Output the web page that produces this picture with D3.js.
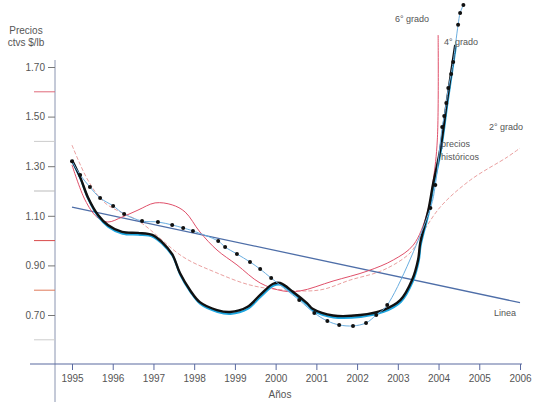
<!DOCTYPE html>
<html>
<head>
<meta charset="utf-8">
<script src="https://cdn.jsdelivr.net/npm/d3@7"></script>
<style>
  body { margin: 0; background: #fff; }
  text { font-family: "Liberation Sans", Arial, sans-serif; fill: #555; }
</style>
</head>
<body>
<svg id="chart"></svg>
<script>
// Tick labels
const yearTicks = [1995, 1996, 1997, 1998, 1999, 2000, 2001, 2002, 2003, 2004, 2005, 2006];
const priceTicks = [0.70, 0.90, 1.10, 1.30, 1.50, 1.70];
const minorTicks = [0.60, 0.80, 1.00, 1.20, 1.40, 1.60];
const minorColors = ['#ccc', '#e07a5a', '#d94a4a', '#bbb', '#ccc', '#e06a7a'];

// Precios historicos (dotted series)
const histYears = [1995.00, 1995.20, 1995.44, 1995.69, 1996.01, 1996.28, 1996.72, 1997.11, 1997.46, 1997.73,
  1997.97, 1998.59, 1998.76, 1999.05, 1999.37, 1999.62, 1999.89, 2000.58, 2000.95, 2001.27,
  2001.56, 2001.90, 2002.22, 2002.47, 2002.74, 2003.80, 2003.92, 2004.09, 2004.14, 2004.19,
  2004.24, 2004.31, 2004.36, 2004.48, 2004.53, 2004.61];
const histPrices = [1.32, 1.265, 1.216, 1.172, 1.140, 1.107, 1.079, 1.075, 1.063, 1.051,
  1.039, 0.998, 0.974, 0.946, 0.914, 0.885, 0.849, 0.760, 0.708, 0.676,
  0.660, 0.656, 0.668, 0.700, 0.740, 1.131, 1.224, 1.458, 1.502, 1.555,
  1.615, 1.672, 1.720, 1.870, 1.918, 1.95];

// 6° grado
const g6Years = [1995.00, 1995.20, 1995.39, 1995.64, 1995.88, 1996.23, 1996.62, 1996.97, 1997.21, 1997.46,
  1997.65, 1997.90, 1998.14, 1998.56, 1998.88, 1999.30, 1999.62, 1999.94, 2000.11, 2000.43,
  2000.77, 2000.92, 2001.41, 2002.08, 2002.64, 2003.06, 2003.35, 2003.50, 2003.55, 2003.75,
  2003.87, 2004.04, 2004.21, 2004.41];
const g6Prices = [1.325, 1.256, 1.175, 1.103, 1.063, 1.035, 1.031, 1.023, 0.994, 0.945,
  0.869, 0.800, 0.752, 0.720, 0.712, 0.732, 0.781, 0.826, 0.829, 0.793,
  0.748, 0.724, 0.698, 0.700, 0.720, 0.760, 0.841, 0.925, 0.990, 1.123,
  1.232, 1.365, 1.567, 1.789];

// 4° grado
const g4Years = [1995.00, 1995.32, 1995.61, 1995.88, 1996.23, 1996.62, 1997.04, 1997.46, 1997.78, 1998.14,
  1998.56, 1999.05, 1999.62, 2000.18, 2000.60, 2001.41, 2002.25, 2002.89, 2003.38, 2003.72,
  2003.87, 2003.97, 2003.99];
const g4Prices = [1.305, 1.164, 1.095, 1.075, 1.095, 1.123, 1.152, 1.144, 1.115, 1.035,
  0.962, 0.902, 0.829, 0.797, 0.797, 0.837, 0.877, 0.922, 0.982, 1.111,
  1.244, 1.406, 1.829];

// 2° grado
const g2Years = [1995.00, 1995.39, 1995.81, 1996.67, 1997.73, 1998.51, 1999.37, 2000.18, 2001.09, 2001.83,
  2002.64, 2003.30, 2003.55, 2004.04, 2004.78, 2005.69, 2006.00];
const g2Prices = [1.385, 1.244, 1.152, 1.075, 0.934, 0.873, 0.821, 0.801, 0.801, 0.841,
  0.881, 0.950, 1.015, 1.135, 1.244, 1.337, 1.373];

// Linea
const linYears = [1995, 2006];
const linPrices = [1.135, 0.75];

const width = 539, height = 406;
const svg = d3.select('#chart').attr('width', width).attr('height', height);

const x = d3.scaleLinear().domain([1995, 2006]).range([72, 520]);
const y = d3.scaleLinear().domain([0.70, 1.70]).range([315, 67]);

const pts = (xs, ys) => xs.map((d, i) => [d, ys[i]]);
const line = d3.line().x(d => x(d[0])).y(d => y(d[1])).curve(d3.curveCatmullRom.alpha(0.5));
const straight = d3.line().x(d => x(d[0])).y(d => y(d[1]));

// Axes
const axisX = 55, axisY = 364;
svg.append('line').attr('x1', axisX).attr('x2', axisX).attr('y1', 60).attr('y2', 402)
  .attr('stroke', '#8a94b0').attr('stroke-width', 1);
svg.append('line').attr('x1', 30).attr('x2', 522).attr('y1', axisY).attr('y2', axisY)
  .attr('stroke', '#5a6aa0').attr('stroke-width', 1.2);

const yAxis = d3.axisLeft(y).tickValues(priceTicks).tickSize(7).tickFormat(d3.format('.2f'));
const yG = svg.append('g').attr('transform', `translate(${axisX},0)`).call(yAxis);
yG.select('.domain').remove();
yG.selectAll('.tick line').attr('stroke', '#777');
yG.selectAll('.tick text').attr('font-size', 10).attr('fill', '#666').attr('x', -10);

svg.selectAll('.minor').data(minorTicks).join('line')
  .attr('class', 'minor')
  .attr('x1', 34).attr('x2', axisX)
  .attr('y1', d => y(d)).attr('y2', d => y(d))
  .attr('stroke', (d, i) => minorColors[i]).attr('stroke-width', 1);

const xAxis = d3.axisBottom(x).tickValues(yearTicks).tickSize(6).tickFormat(d3.format('d'));
const xG = svg.append('g').attr('transform', `translate(0,${axisY})`).call(xAxis);
xG.select('.domain').remove();
xG.selectAll('.tick line').attr('stroke', '#5a6aa0');
xG.selectAll('.tick text').attr('font-size', 10).attr('fill', '#666').attr('dy', '0.9em');

svg.append('text').attr('x', 26).attr('y', 34).attr('text-anchor', 'middle').attr('font-size', 10).text('Precios');
svg.append('text').attr('x', 26).attr('y', 46).attr('text-anchor', 'middle').attr('font-size', 10).text('ctvs $/lb');
svg.append('text').attr('x', 280).attr('y', 398).attr('text-anchor', 'middle').attr('font-size', 10).text('Años');

// Curves
svg.append('path').datum(pts(g2Years, g2Prices)).attr('d', line)
  .attr('fill', 'none').attr('stroke', '#eaa0a0').attr('stroke-width', 1).attr('stroke-dasharray', '4,2');
svg.append('path').datum(pts(linYears, linPrices)).attr('d', straight)
  .attr('fill', 'none').attr('stroke', '#4e6ea8').attr('stroke-width', 1.3);
svg.append('path').datum(pts(g4Years, g4Prices)).attr('d', line)
  .attr('fill', 'none').attr('stroke', '#e0506a').attr('stroke-width', 1);
svg.append('path').datum(pts(g6Years, g6Prices)).attr('d', line)
  .attr('transform', 'translate(0.5,1.8)')
  .attr('fill', 'none').attr('stroke', '#1ea6e0').attr('stroke-width', 2.2);
svg.append('path').datum(pts(g6Years, g6Prices)).attr('d', line)
  .attr('fill', 'none').attr('stroke', '#111').attr('stroke-width', 2.4);
svg.append('path').datum(pts(histYears, histPrices)).attr('d', line)
  .attr('fill', 'none').attr('stroke', '#6aaee0').attr('stroke-width', 1);
svg.selectAll('.dot').data(pts(histYears, histPrices)).join('circle')
  .attr('class', 'dot')
  .attr('cx', d => x(d[0])).attr('cy', d => y(d[1])).attr('r', 2)
  .attr('fill', '#111');

// Curve labels
const lab = (tx, ty, s) => svg.append('text').attr('x', tx).attr('y', ty)
  .attr('font-size', 9).attr('fill', '#4a5a7a').text(s);
lab(395, 22, '6° grado');
lab(444, 45, '4° grado');
lab(489, 130, '2° grado');
lab(441, 147, 'precios');
lab(441, 160, 'históricos');
lab(494, 316, 'Linea');
</script>
</body>
</html>
